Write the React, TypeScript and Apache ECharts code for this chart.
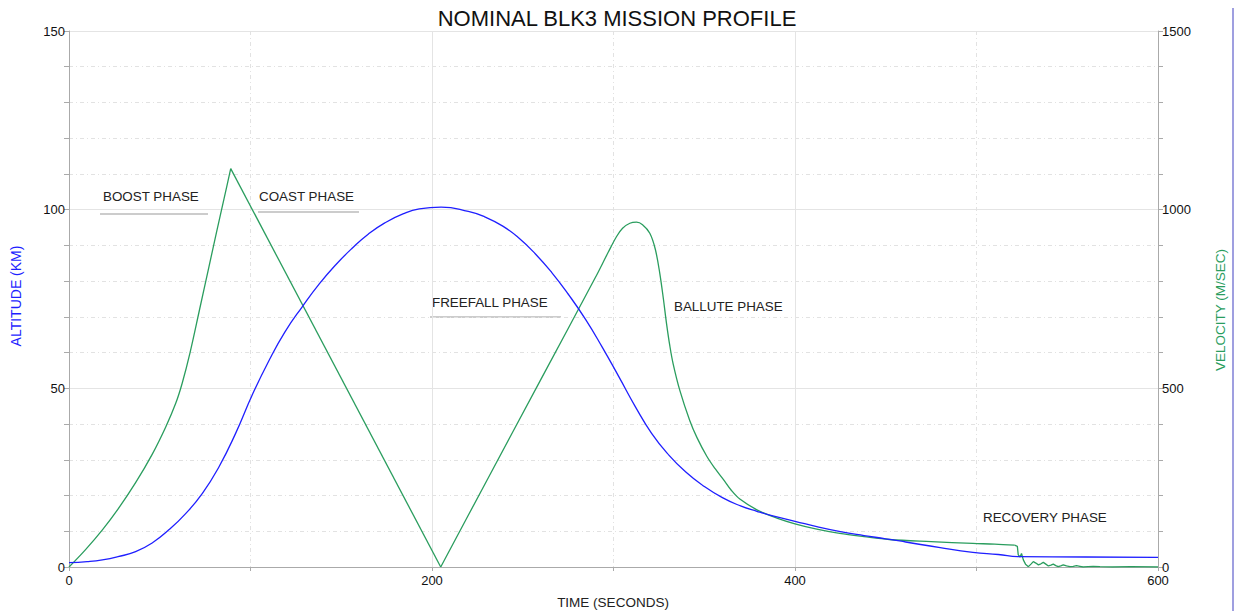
import React, { useEffect, useRef } from "react";
import * as echarts from "echarts";

const TITLE = "NOMINAL BLK3 MISSION PROFILE";
const X_NAME = "TIME (SECONDS)";
const Y_LEFT_NAME = "ALTITUDE (KM)";
const Y_RIGHT_NAME = "VELOCITY (M/SEC)";

// Altitude (km) vs time (s)
const altTime = [0, 10, 18.4, 27, 36.7, 46, 55, 64, 73.5, 82.6, 91.8, 101, 110, 119, 128.6, 138, 147, 156, 165, 174, 184, 193, 205, 220, 229, 239, 248, 257, 266, 275, 284.6, 293.7, 303, 312, 321, 330.5, 340, 349, 360, 370, 379, 390, 400, 412, 425, 438, 450, 461, 480, 498, 512, 523.5, 560, 600];
const altitude = [1.2, 1.5, 2.0, 2.9, 4.3, 6.8, 10.4, 14.8, 20.6, 28, 37.4, 48.2, 57.6, 65.8, 72.9, 79.3, 84.6, 89.2, 93.2, 96.3, 98.8, 100.2, 100.7, 99.5, 98.0, 95.4, 92.0, 87.6, 82.4, 76.4, 69.3, 61.6, 53.2, 44.9, 37.4, 31.3, 26.5, 22.9, 19.4, 17.1, 15.6, 14.0, 12.8, 11.3, 9.9, 8.8, 7.9, 7.0, 5.4, 4.1, 3.5, 2.9, 2.8, 2.7];

// Velocity (m/s) vs time (s)
const velTime = [0, 9, 18.4, 27, 36.7, 45.9, 53.3, 58.8, 62.4, 66.7, 72, 77.1, 81.2, 85.4, 89.1, 204.8, 230, 260, 290, 297, 301.7, 305, 309, 312.7, 316, 320, 323, 325.5, 327.5, 329.2, 331, 332.8, 336.5, 342, 346, 351.4, 356, 360.5, 365, 369.6, 379, 390, 400, 412, 424.6, 438, 452, 475, 498, 510, 521, 522.5, 523, 524, 524.8, 525.8, 527, 528.6, 530, 531.3, 532.7, 534.1, 535.5, 536.8, 538.2, 539.6, 541, 542.3, 543.7, 545, 546.4, 547.8, 549.6, 551.5, 553.3, 555.1, 557, 558.8, 561.5, 564.3, 568, 575, 585, 600];
const velocity = [0, 48, 104, 162, 236, 316, 392, 458, 515, 600, 722, 840, 935, 1030, 1115, 0, 240, 525, 810, 880, 925, 948, 962, 965, 958, 934, 890, 822, 750, 682, 620, 570, 495, 410, 362, 310, 275, 245, 214, 190, 160, 137, 121, 106, 94, 85, 77, 71, 66, 64, 61, 58, 34, 28, 38, 20, 8, 1, 8, 15, 11, 6, 9, 13, 8, 3, 5, 8, 4, 1, 3, 6, 3, 1, 2, 4, 2, 0, 1, 2, 1, 0, 1, 0];

// index ranges of the velocity trace by flight phase: [start, end, smoothing]
const velSegments: [number, number, number][] = [
  [0, 14, 0.35],
  [14, 15, 0],
  [15, 50, 0.35],
  [50, velTime.length - 1, 0],
];

const annotations = [
  { text: "BOOST PHASE", x: 103, y: 198, underline: [100, 208, 214] },
  { text: "COAST PHASE", x: 259, y: 198, underline: [258, 359, 212] },
  { text: "FREEFALL PHASE", x: 432, y: 304, underline: [430, 561, 317] },
  { text: "BALLUTE PHASE", x: 674, y: 308, underline: null },
  { text: "RECOVERY PHASE", x: 983, y: 519, underline: null },
];

const FONT = "'Liberation Sans', Arial, sans-serif";
const BLUE = "#1f1fff";
const GREEN = "#2a9d5e";

export default function App() {
  const ref = useRef<HTMLDivElement>(null);

  useEffect(() => {
    document.body.style.margin = "0";
    const chart = echarts.init(ref.current!, undefined, { renderer: "svg" });

    const altData = altTime.map((t, i) => [t, altitude[i]]);
    const velData = velTime.map((t, i) => [t, velocity[i]]);

    const graphics: any[] = [];
    annotations.forEach((a) => {
      graphics.push({
        type: "text",
        left: a.x,
        top: a.y - 8,
        style: { text: a.text, fill: "#222", font: `13.4px ${FONT}` },
        silent: true,
      });
      if (a.underline) {
        graphics.push({
          type: "line",
          shape: { x1: a.underline[0], y1: a.underline[2], x2: a.underline[1], y2: a.underline[2] },
          style: { stroke: "#999", lineWidth: 1 },
          silent: true,
        });
      }
    });
    graphics.push({
      type: "text",
      x: 16,
      y: 296,
      rotation: Math.PI / 2,
      style: { text: Y_LEFT_NAME, fill: BLUE, font: `14px ${FONT}`, align: "center", verticalAlign: "middle" },
    });
    graphics.push({
      type: "text",
      x: 1220,
      y: 310,
      rotation: Math.PI / 2,
      style: { text: Y_RIGHT_NAME, fill: GREEN, font: `13.5px ${FONT}`, align: "center", verticalAlign: "middle" },
    });
    graphics.push({
      type: "text",
      x: 613,
      y: 602,
      style: { text: X_NAME, fill: "#222", font: `13.5px ${FONT}`, align: "center", verticalAlign: "middle" },
    });
    graphics.push({
      type: "text",
      x: 617,
      y: 18,
      style: { text: TITLE, fill: "#111", font: `22px ${FONT}`, align: "center", verticalAlign: "middle" },
    });
    graphics.push({
      type: "line",
      shape: { x1: 1233, y1: 8, x2: 1233, y2: 611 },
      style: { stroke: "#9f9fe0", lineWidth: 2 },
    });

    const axisLine = { show: true, lineStyle: { color: "#aaa", width: 1 } };
    const plainLabel = (v: number) => String(v);

    const velSeries = velSegments.map(([s, e, sm]) => ({
      type: "line",
      name: "Velocity",
      data: velData.slice(s, e + 1),
      yAxisIndex: 1,
      showSymbol: false,
      smooth: sm > 0 ? sm : false,
      lineStyle: { color: GREEN, width: 1.3 },
      z: 2,
    }));

    chart.setOption({
      animation: false,
      grid: { left: 69, right: 88, top: 31, bottom: 44, containLabel: false },
      xAxis: {
        type: "value",
        min: 0,
        max: 600,
        interval: 200,
        axisLine: { ...axisLine, onZero: false },
        axisTick: { show: true, length: 4, lineStyle: { color: "#aaa" } },
        minorTick: { show: true, splitNumber: 2, length: 4, lineStyle: { color: "#aaa" } },
        axisLabel: { color: "#111", fontSize: 13, fontFamily: FONT, margin: 7, formatter: plainLabel },
        splitLine: { show: true, lineStyle: { color: "#e4e4e4", width: 1 } },
        minorSplitLine: { show: true, lineStyle: { color: "#e2e2e2", type: [4, 3, 1, 3], width: 1 } },
      },
      yAxis: [
        {
          type: "value",
          min: 0,
          max: 150,
          interval: 50,
          axisLine: axisLine,
          axisTick: { show: true, length: 5, lineStyle: { color: "#aaa" } },
          minorTick: { show: true, splitNumber: 5, length: 5, lineStyle: { color: "#aaa" } },
          axisLabel: { color: "#111", fontSize: 13, fontFamily: FONT, margin: 4, formatter: plainLabel },
          splitLine: { show: true, lineStyle: { color: "#e4e4e4", width: 1 } },
          minorSplitLine: { show: true, lineStyle: { color: "#e2e2e2", type: [4, 3, 1, 3], width: 1 } },
        },
        {
          type: "value",
          min: 0,
          max: 1500,
          interval: 500,
          position: "right",
          axisLine: axisLine,
          axisTick: { show: true, length: 5, lineStyle: { color: "#aaa" } },
          minorTick: { show: true, splitNumber: 5, length: 5, lineStyle: { color: "#aaa" } },
          axisLabel: { color: "#111", fontSize: 13, fontFamily: FONT, margin: 4, formatter: plainLabel },
          splitLine: { show: false },
          minorSplitLine: { show: false },
        },
      ],
      series: [
        {
          type: "line",
          name: "Altitude",
          data: altData,
          yAxisIndex: 0,
          showSymbol: false,
          smooth: 0.5,
          lineStyle: { color: BLUE, width: 1.3 },
          z: 3,
        },
        ...velSeries,
      ],
      graphic: graphics,
    });

    return () => chart.dispose();
  }, []);

  return (
    <div
      ref={ref}
      style={{ position: "absolute", left: 0, top: 0, width: 1246, height: 611, background: "#fff" }}
    />
  );
}
